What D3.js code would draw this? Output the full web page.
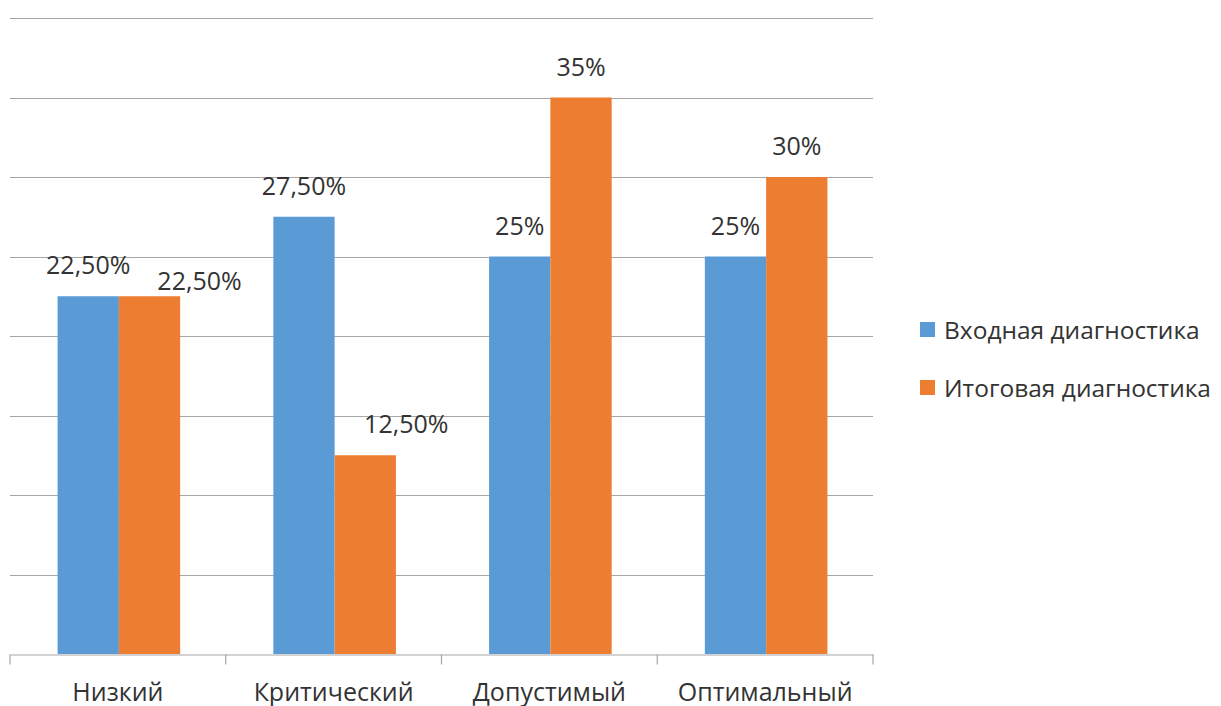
<!DOCTYPE html>
<html>
<head>
<meta charset="utf-8">
<script src="https://cdn.jsdelivr.net/npm/d3@7"></script>
<style>
  html, body { margin: 0; padding: 0; background: #fff; }
  svg { display: block; font-family: "Open Sans", "Noto Sans", sans-serif; }
</style>
</head>
<body>
<svg id="chart" width="1221" height="706"></svg>
<script>
// Levels and the two diagnostic series (percent)
const categories = ["Низкий", "Критический", "Допустимый", "Оптимальный"];
const seriesNames = ["Входная диагностика", "Итоговая диагностика"];
const entryValues = [22.5, 27.5, 25, 25];
const finalValues = [22.5, 12.5, 35, 30];
const valueLabels = [
  ["22,50%", "27,50%", "25%", "25%"],
  ["22,50%", "12,50%", "35%", "30%"]
];
const gridTicks = [0, 5, 10, 15, 20, 25, 30, 35, 40];
const colors = ["#5B9BD5", "#ED7D31"];
const textColor = "#333333";

const svg = d3.select("#chart");
const plot = { left: 10, right: 873, top: 18, bottom: 654 };

const x = d3.scaleBand().domain(categories).range([plot.left, plot.right]).paddingInner(0).paddingOuter(0);
const inner = d3.scaleBand().domain([0, 1]).range([0, x.bandwidth()]).paddingOuter(0.76).paddingInner(0);
const y = d3.scaleLinear().domain([0, 40]).range([plot.bottom, plot.top]);

// Horizontal gridlines
svg.append("g")
  .selectAll("line")
  .data(gridTicks.filter(d => d > 0))
  .join("line")
  .attr("x1", plot.left).attr("x2", plot.right)
  .attr("y1", d => Math.round(y(d)) + 0.5).attr("y2", d => Math.round(y(d)) + 0.5)
  .attr("stroke", "#a6a6a6").attr("stroke-width", 1.2);

// Bars
const rows = categories.map((c, i) => ({ c, vals: [entryValues[i], finalValues[i]] }));
const groups = svg.append("g").selectAll("g").data(rows).join("g")
  .attr("transform", d => `translate(${x(d.c) + 1},0)`);
groups.selectAll("rect")
  .data(d => d.vals.map((v, s) => ({ v, s })))
  .join("rect")
  .attr("x", d => inner(d.s))
  .attr("width", inner.bandwidth())
  .attr("y", d => y(d.v))
  .attr("height", d => y(0) - y(d.v))
  .attr("fill", d => colors[d.s]);

// Category axis
const xAxis = d3.axisBottom(x).tickSize(0).tickPadding(0);
const axisG = svg.append("g").attr("transform", `translate(0,${plot.bottom + 0.5})`).call(xAxis);
axisG.select(".domain").attr("stroke", "#a6a6a6").attr("stroke-width", 1.2);
axisG.selectAll(".tick text")
  .attr("y", 46).attr("dy", 0)
  .attr("font-size", 25).attr("fill", textColor)
  .attr("font-family", "'Open Sans', sans-serif");
// Tick marks on category boundaries
const bounds = categories.map(c => x(c)).concat([plot.right]);
axisG.selectAll(".bound").data(bounds).join("line").attr("class", "bound")
  .attr("x1", d => d).attr("x2", d => d).attr("y1", 0).attr("y2", 10)
  .attr("stroke", "#a6a6a6").attr("stroke-width", 1.2);

// Value labels; a couple are nudged aside where they would collide
const nudges = { "1-0": [50, 16], "1-1": [41, 0] };
const labelData = [];
rows.forEach((r, i) => r.vals.forEach((v, s) => labelData.push({ i, s, v, text: valueLabels[s][i] })));
svg.append("g").selectAll("text").data(labelData).join("text")
  .attr("x", d => x(categories[d.i]) + 1 + inner(d.s) + inner.bandwidth() / 2 + (nudges[`${d.s}-${d.i}`] || [0, 0])[0])
  .attr("y", d => y(d.v) - 22 + (nudges[`${d.s}-${d.i}`] || [0, 0])[1])
  .attr("text-anchor", "middle")
  .attr("font-size", 25)
  .attr("fill", textColor)
  .text(d => d.text);

// Legend
const legend = svg.append("g").attr("transform", "translate(920,0)");
const legendBaseline = [339, 397];
seriesNames.forEach((name, s) => {
  legend.append("rect").attr("x", 0).attr("y", legendBaseline[s] - 17).attr("width", 15).attr("height", 15).attr("fill", colors[s]);
  legend.append("text").attr("x", 24).attr("y", legendBaseline[s])
    .attr("font-size", 24.5).attr("fill", textColor).text(name);
});
</script>
</body>
</html>
